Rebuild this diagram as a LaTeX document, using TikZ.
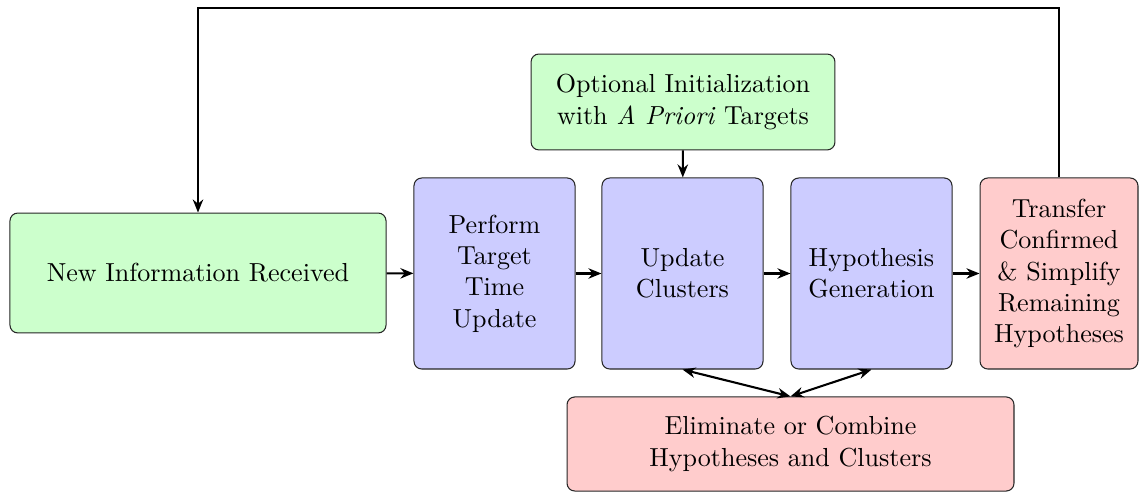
\documentclass[tikz,border=0pt]{standalone}
\usetikzlibrary{arrows.meta}
\begin{document}
\begin{tikzpicture}[x=0.3837pt,y=-0.3837pt,
  box/.style={draw=black!85,line width=0.4pt,rounded corners=3pt,align=center,inner sep=0pt},
  greenbox/.style={box,fill=green!20},
  bluebox/.style={box,fill=blue!20,minimum width=61.8pt,minimum height=73.3pt},
  redbox/.style={box,fill=red!20},
  flow/.style={-{Stealth[length=5pt,width=4pt]},line width=0.8pt},
  both/.style={{Stealth[length=5pt,width=4pt]}-{Stealth[length=5pt,width=4pt]},line width=0.8pt}]
\useasboundingbox (0,0) rectangle (1139,492);

\node[greenbox,minimum width=144.3pt,minimum height=46pt] (newinfo) at (198,273) {New Information Received};
\node[bluebox] (perform) at (494.5,273.5) {Perform\\Target\\Time\\Update};
\node[bluebox] (update) at (682.5,273.5) {Update\\Clusters};
\node[bluebox] (hyp) at (871.5,273.5) {Hypothesis\\Generation};
\node[redbox,minimum width=60.6pt,minimum height=73.3pt] (transfer) at (1059,273.5) {Transfer\\Confirmed\\\& Simplify\\Remaining\\Hypotheses};
\node[greenbox,minimum width=116.6pt,minimum height=36.8pt] (optional) at (683,102) {Optional Initialization\\with \textit{A Priori} Targets};
\node[redbox,minimum width=171.5pt,minimum height=36.1pt] (elim) at (790.5,444) {Eliminate or Combine\\Hypotheses and Clusters};

% top edge of the feedback loop
\coordinate (tl) at (198,8);

\draw[flow] (newinfo) -- (perform);
\draw[flow] (perform) -- (update);
\draw[flow] (update) -- (hyp);
\draw[flow] (hyp) -- (transfer);
\draw[flow] (optional) -- (update);
\draw[flow] (transfer.north) |- (tl) -- (newinfo.north);
\draw[both] (update.south) -- (elim.north);
\draw[both] (hyp.south) -- (elim.north);
\end{tikzpicture}
\end{document}
